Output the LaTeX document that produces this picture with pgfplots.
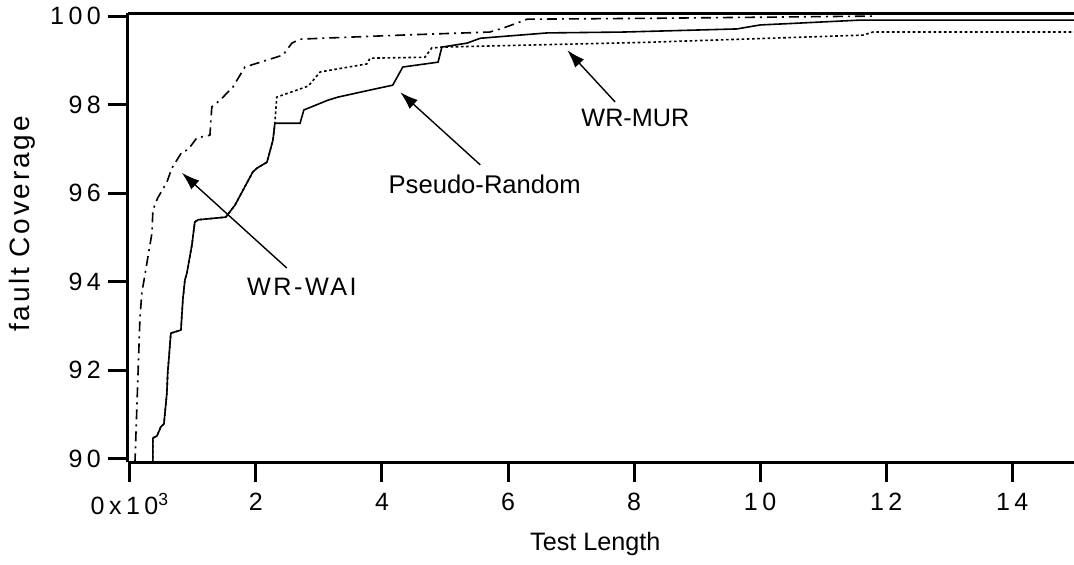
\documentclass[border=0pt]{standalone}
\usepackage{fontspec}
\setmainfont{Liberation Sans}
\newfontfamily\tickfont[LetterSpace=18]{Liberation Sans}
\newfontfamily\spacedfont[LetterSpace=10]{Liberation Sans}
\usepackage{pgfplots}
\pgfplotsset{compat=1.18}
\usetikzlibrary{arrows.meta}

% WR-WAI (dash-dot)
\pgfplotstableread{
x y
0.08 89.9
0.16 93.2
0.19 93.75
0.35 95.1
0.365 95.62
0.44 95.89
0.587 96.25
0.667 96.57
0.825 96.93
0.92 96.98
1.063 97.25
1.27 97.31
1.30 97.95
1.43 98.10
1.635 98.40
1.825 98.85
2.43 99.12
2.57 99.39
2.70 99.48
4.29 99.57
5.71 99.64
5.92 99.73
6.14 99.84
6.30 99.93
8.25 99.95
11.78 100.0
}\wai

% Pseudo-Random (solid)
\pgfplotstableread{
x y
0.365 89.9
0.365 90.47
0.43 90.52
0.49 90.72
0.54 90.79
0.587 91.49
0.60 91.94
0.65 92.84
0.81 92.91
0.84 93.59
0.873 94.04
0.905 94.20
0.984 94.83
1.03 95.35
1.08 95.40
1.52 95.46
1.667 95.73
1.95 96.48
2.02 96.57
2.175 96.70
2.27 97.20
2.30 97.58
2.70 97.58
2.76 97.88
3.14 98.10
3.30 98.17
3.81 98.33
4.17 98.44
4.33 98.85
4.89 98.96
4.95 99.30
5.35 99.39
5.56 99.50
6.62 99.62
7.83 99.64
9.63 99.71
10.0 99.80
10.59 99.84
11.59 99.91
15.0 99.91
}\pseudo

% WR-MUR (dotted)
\pgfplotstableread{
x y
0.365 89.9
0.365 90.47
0.43 90.52
0.49 90.72
0.54 90.79
0.587 91.49
0.60 91.94
0.65 92.84
0.81 92.91
0.84 93.59
0.873 94.04
0.905 94.20
0.984 94.83
1.03 95.35
1.08 95.40
1.52 95.46
1.667 95.73
1.95 96.48
2.02 96.57
2.175 96.70
2.27 97.20
2.30 97.58
2.33 98.17
2.83 98.42
3.02 98.74
3.76 98.92
3.81 99.05
4.68 99.07
4.79 99.28
4.97 99.30
8.25 99.41
11.63 99.57
11.79 99.64
15.0 99.64
}\mur

\begin{document}
\begin{tikzpicture}
\begin{axis}[
    scale only axis,
    width=473pt,
    height=224.5pt,
    xmin=-0.03, xmax=14.98,
    ymin=89.93, ymax=100.07,
    axis x line=box,
    axis y line=left,
    axis line style={-, line width=1.5pt},
    xtick pos=bottom,
    ytick pos=left,
    tick align=outside,
    major tick length=10pt,
    every tick/.style={line width=1.5pt, black},
    xtick={0,2,4,6,8,10,12,14},
    xticklabels={0x10\textsuperscript{3},2,4,6,8,10,12,14},
    ytick={90,92,94,96,98,100},
    yticklabels={90,92,94,96,98,100},
    tick label style={font=\fontsize{12.5}{15}\selectfont\tickfont},
    xticklabel style={yshift=-2pt},
    xlabel={Test Length},
    ylabel={fault Coverage},
    label style={font=\fontsize{12.6}{15}\selectfont},
    xlabel style={at={(axis description cs:0.494,-0.183)}, anchor=center},
    ylabel style={at={(axis description cs:-0.112,0.53)}, anchor=center, font=\fontsize{14}{16}\selectfont\spacedfont},
]
\addplot[black, line width=0.8pt, dash pattern=on 5pt off 2.5pt on 1pt off 2.5pt] table {\wai};
\addplot[black, line width=0.8pt] table {\pseudo};
\addplot[black, line width=0.8pt, dash pattern=on 1.3pt off 1.3pt] table {\mur};

\draw[-{Latex[length=9pt,width=6pt]}, line width=0.7pt] (axis cs:2.49,94.31) -- (axis cs:0.825,96.46);
\draw[-{Latex[length=9pt,width=6pt]}, line width=0.7pt] (axis cs:5.56,96.64) -- (axis cs:4.29,98.28);
\draw[-{Latex[length=9pt,width=6pt]}, line width=0.7pt] (axis cs:7.70,98.06) -- (axis cs:6.94,99.23);
\node[font=\fontsize{12.6}{15}\selectfont\spacedfont] at (axis cs:2.73,93.88) {WR-WAI};
\node[font=\fontsize{12.8}{15}\selectfont] at (axis cs:5.63,96.2) {Pseudo-Random};
\node[font=\fontsize{12.6}{15}\selectfont] at (axis cs:8.02,97.7) {WR-MUR};
\end{axis}
\pgfresetboundingbox
\path[use as bounding box] ([xshift=-64pt,yshift=-51pt]current axis.south west) rectangle ([yshift=6.5pt]current axis.north east);
\end{tikzpicture}
\end{document}
